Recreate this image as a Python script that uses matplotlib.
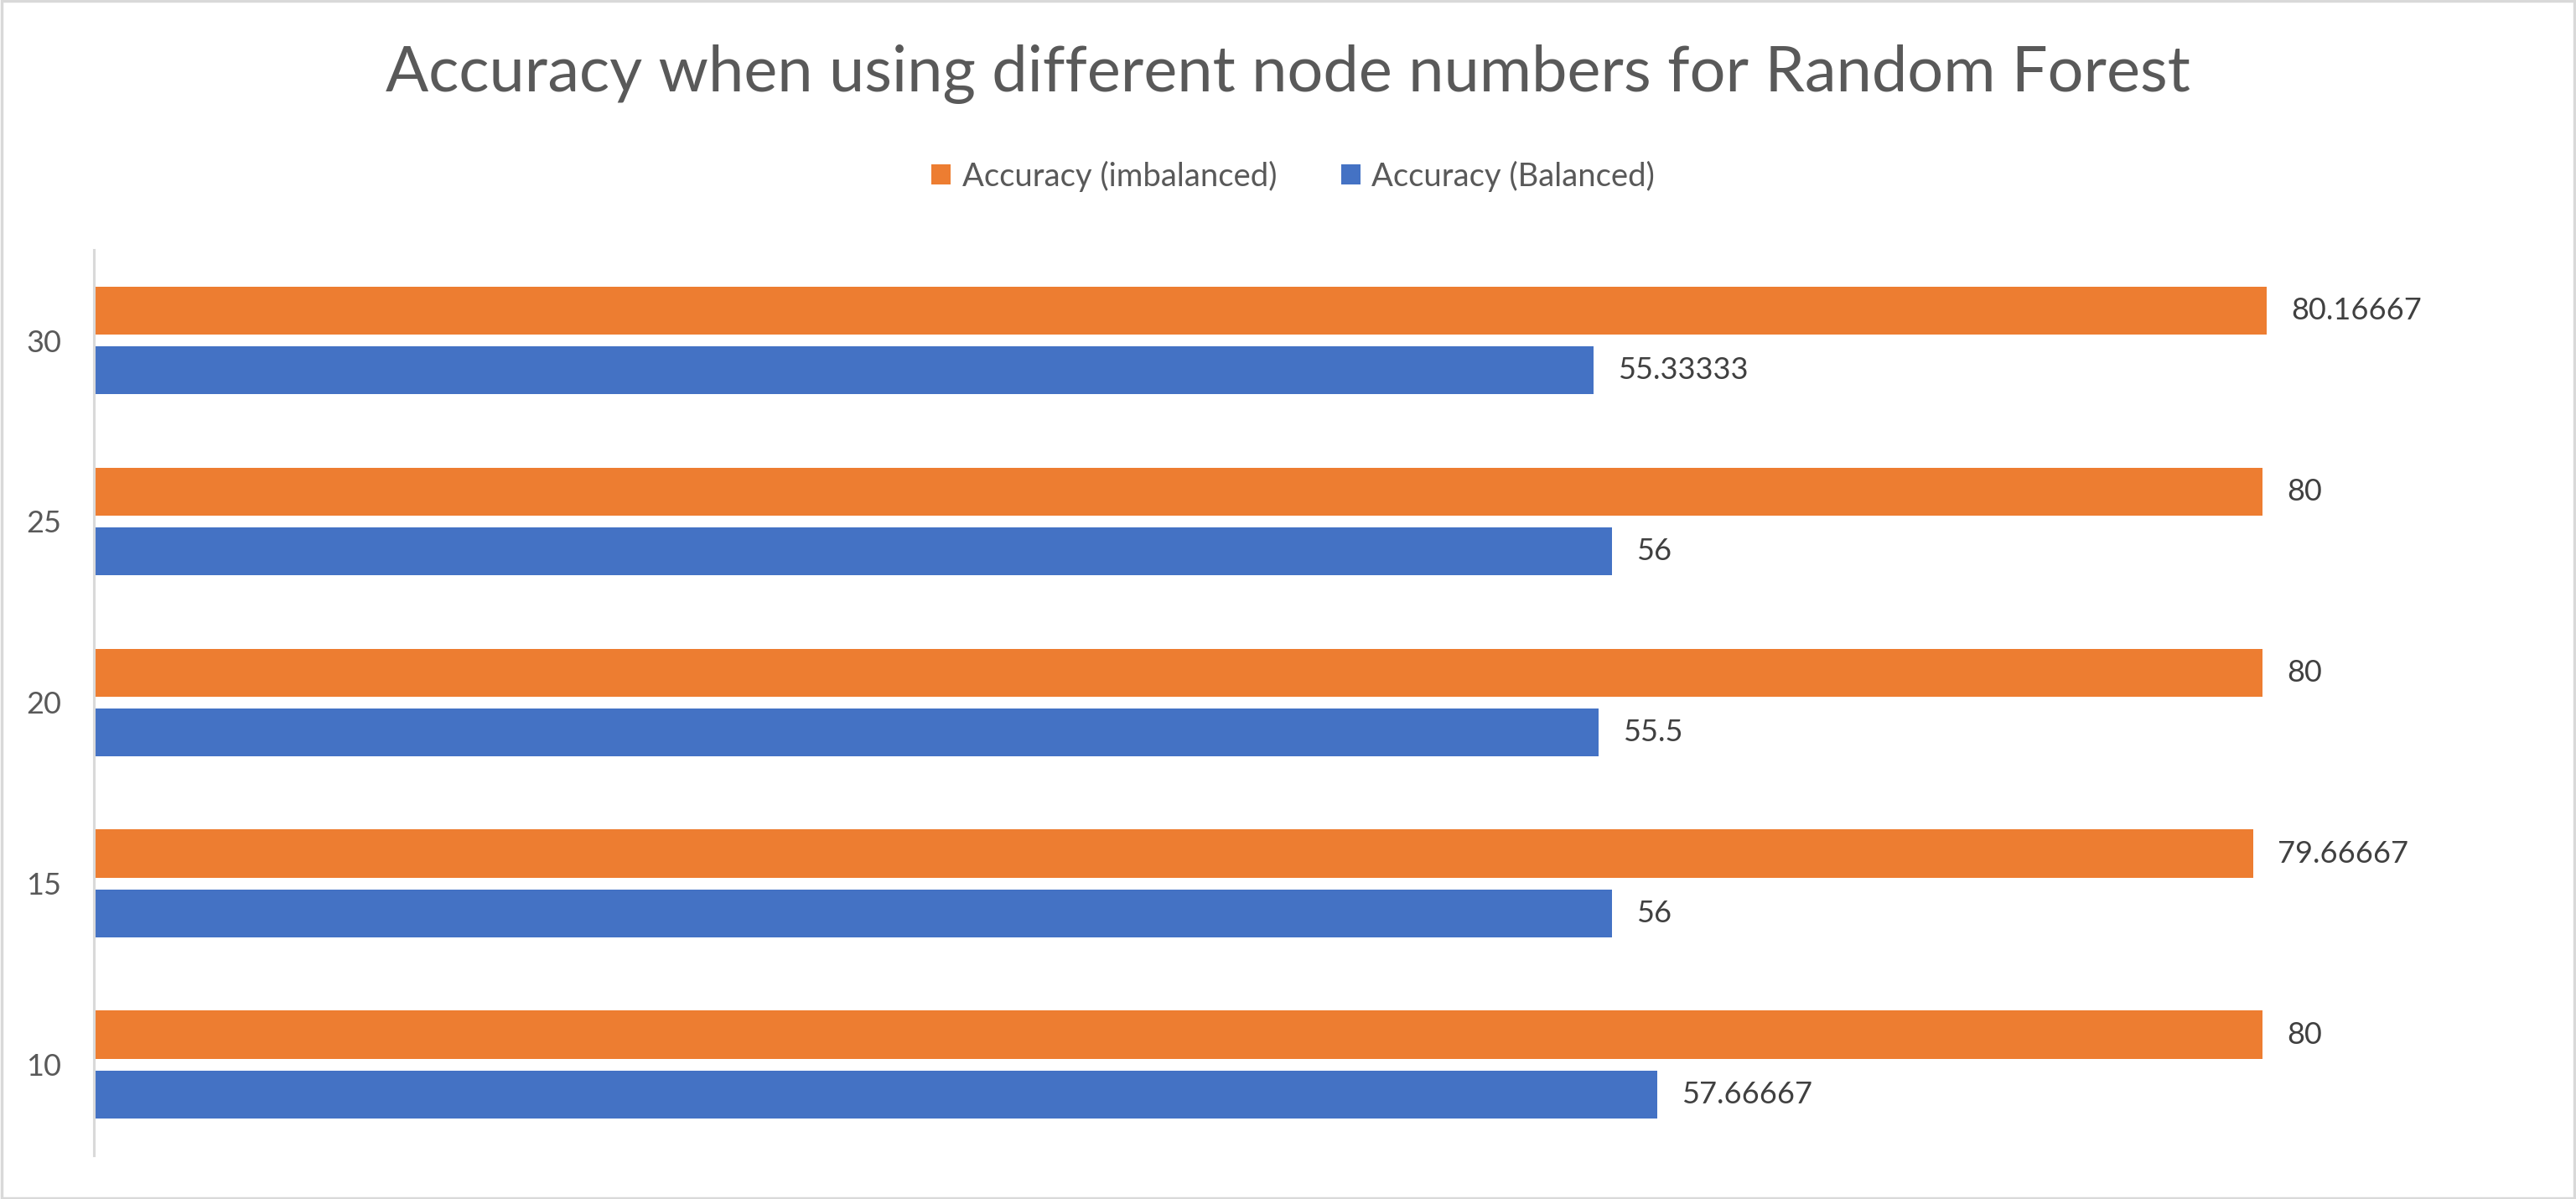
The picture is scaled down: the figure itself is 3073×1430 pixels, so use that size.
import matplotlib
matplotlib.use("Agg")
import matplotlib.pyplot as plt
from matplotlib.patches import Rectangle
import numpy as np

plt.rcParams['font.family'] = ['Lato', 'DejaVu Sans']

# node numbers (bottom to top) and accuracies
nodes = ['10', '15', '20', '25', '30']
acc_imbalanced = [80, 79.66667, 80, 80, 80.16667]
acc_balanced = [57.66667, 56, 55.5, 56, 55.33333]
labels_imb = ['80', '79.66667', '80', '80', '80.16667']
labels_bal = ['57.66667', '56', '55.5', '56', '55.33333']

orange = '#ED7D31'
blue = '#4472C4'
grey_txt = '#595959'

fig = plt.figure(figsize=(30.73, 14.30), dpi=100)
ax = fig.add_axes([0.0365, 0.0364, 0.9469, 0.7552])

y = np.arange(len(nodes))
h = 0.265
off = 0.166
b1 = ax.barh(y + off, acc_imbalanced, height=h, color=orange, label='Accuracy (imbalanced)')
b2 = ax.barh(y - off, acc_balanced, height=h, color=blue, label='Accuracy (Balanced)')

for bars, labs in ((b1, labels_imb), (b2, labels_bal)):
    for rect, lab in zip(bars, labs):
        ax.annotate(lab, (rect.get_width(), rect.get_y() + rect.get_height() / 2),
                    xytext=(21, 0), textcoords='offset points',
                    ha='left', va='center', fontsize=26, color='#404040')

ax.set_xlim(0, 90)
ax.set_ylim(-0.5, len(nodes) - 0.5)
ax.set_yticks(y)
ax.set_yticklabels(nodes, fontsize=26, color=grey_txt)
ax.tick_params(axis='y', length=0, pad=28)
ax.set_xticks([])
for s in ['top', 'right', 'bottom']:
    ax.spines[s].set_visible(False)
ax.spines['left'].set_color('#D9D9D9')
ax.spines['left'].set_linewidth(2.2)

fig.text(0.5, 0.938, 'Accuracy when using different node numbers for Random Forest',
         ha='center', va='center', fontsize=54.5, color=grey_txt)

leg = fig.legend(handles=[b1, b2], loc='center', bbox_to_anchor=(0.502, 0.853), ncol=2,
                 frameon=False, fontsize=27.5, handlelength=0.6, handleheight=0.6,
                 handletextpad=0.35, columnspacing=2.0, labelcolor=grey_txt)

fig.patches.append(Rectangle((0.0005, 0.001), 0.999, 0.998, transform=fig.transFigure,
                             fill=False, edgecolor='#D9D9D9', linewidth=2.5))

fig.savefig('out.png', dpi=100, facecolor='white')
